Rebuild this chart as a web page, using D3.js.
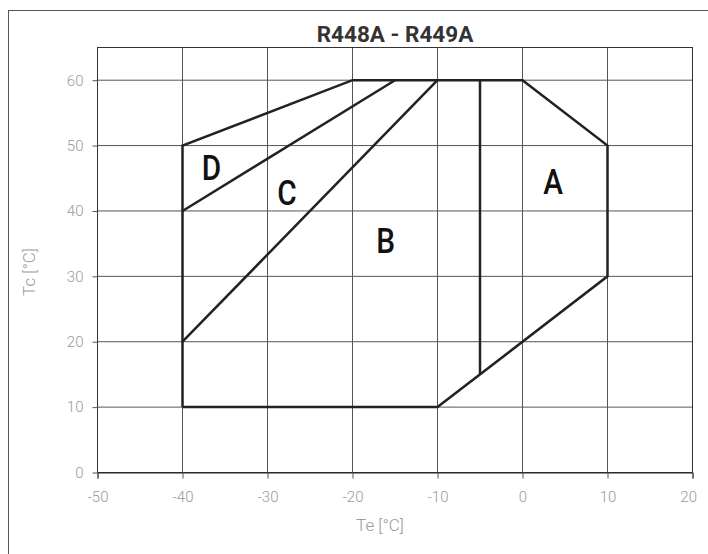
<!DOCTYPE html>
<html>
<head>
<meta charset="utf-8">
<script src="https://cdn.jsdelivr.net/npm/d3@7"></script>
<style>
  body { margin: 0; background: #fff; }
  svg { display: block; }
  .tick text { font-family: Roboto, sans-serif; font-weight: 300; font-size: 15px; fill: #9a9a9a; }
</style>
</head>
<body>
<div id="chart"></div>
<script>
// Operating envelope, Te (evaporating) vs Tc (condensing)
var xTicks = [-50, -40, -30, -20, -10, 0, 10, 20];
var yTicks = [0, 10, 20, 30, 40, 50, 60];

var envelope = [[-40, 10], [-10, 10], [10, 30], [10, 50], [0, 60], [-20, 60], [-40, 50], [-40, 10]];
var dividerAB = [[-5, 15], [-5, 60]];
var dividerBC = [[-40, 20], [-10, 60]];
var dividerCD = [[-40, 40], [-15, 60]];

var zoneNames = ["A", "B", "C", "D"];
var zoneTe = [3.6, -16.1, -27.7, -36.6];
var zoneTc = [42.6, 33.6, 40.9, 44.8];

var width = 708, height = 554;
var plotLeft = 97.5, plotRight = 692.5, plotTop = 47.5, plotBottom = 472.5;

var svg = d3.select("#chart").append("svg")
    .attr("width", width)
    .attr("height", height);

// outer frame (runs off the page on the right and bottom)
svg.append("rect")
    .attr("x", 8.5).attr("y", 10.5)
    .attr("width", 900).attr("height", 800)
    .attr("fill", "none")
    .attr("stroke", "#555")
    .attr("stroke-width", 1);

var x = d3.scaleLinear().domain([-50, 20]).range([plotLeft, plotRight]);
var y = d3.scaleLinear().domain([0, 65]).range([plotBottom, plotTop]);

// grid
svg.append("g").selectAll("line")
    .data(xTicks)
    .enter().append("line")
    .attr("x1", d => x(d)).attr("x2", d => x(d))
    .attr("y1", plotTop).attr("y2", plotBottom)
    .attr("stroke", "#555");

svg.append("g").selectAll("line")
    .data(yTicks)
    .enter().append("line")
    .attr("x1", plotLeft).attr("x2", plotRight)
    .attr("y1", d => y(d)).attr("y2", d => y(d))
    .attr("stroke", "#555");

// plot border
svg.append("rect")
    .attr("x", plotLeft).attr("y", plotTop)
    .attr("width", plotRight - plotLeft).attr("height", plotBottom - plotTop)
    .attr("fill", "none")
    .attr("stroke", "#333");

// axes
var xAxis = svg.append("g")
    .attr("transform", "translate(0," + plotBottom + ")")
    .call(d3.axisBottom(x).tickValues(xTicks).tickSize(6).tickPadding(13).tickFormat(d => String(d)));
xAxis.select(".domain").attr("stroke", "#222");
xAxis.selectAll(".tick line").attr("stroke", "#555");
xAxis.selectAll(".tick text").attr("dy", "0.71em")
    .filter(d => d === 20).attr("text-anchor", "end").attr("x", 4);

var yAxis = svg.append("g")
    .attr("transform", "translate(" + plotLeft + ",0)")
    .call(d3.axisLeft(y).tickValues(yTicks).tickSize(5).tickPadding(9).tickFormat(d => String(d)));
yAxis.select(".domain").remove();
yAxis.selectAll(".tick line").attr("stroke", "#555");

// axis titles
svg.append("text")
    .attr("x", 380).attr("y", 531)
    .attr("text-anchor", "middle")
    .style("font-family", "Roboto, sans-serif")
    .style("font-weight", 300)
    .style("font-size", "17px")
    .style("fill", "#9a9a9a")
    .text("Te [°C]");

svg.append("text")
    .attr("transform", "translate(35,272) rotate(-90)")
    .attr("text-anchor", "middle")
    .style("font-family", "Roboto, sans-serif")
    .style("font-weight", 300)
    .style("font-size", "17px")
    .style("fill", "#9a9a9a")
    .text("Tc [°C]");

// title
svg.append("text")
    .attr("x", 395).attr("y", 41.5)
    .attr("text-anchor", "middle")
    .style("font-family", "Roboto, sans-serif")
    .style("font-weight", 700)
    .style("font-size", "22.5px")
    .style("fill", "#333")
    .text("R448A - R449A");

// envelope lines
var line = d3.line().x(d => x(d[0])).y(d => y(d[1]));

svg.append("g").selectAll("path")
    .data([envelope, dividerAB, dividerBC, dividerCD])
    .enter().append("path")
    .attr("d", line)
    .attr("fill", "none")
    .attr("stroke", "#222")
    .attr("stroke-width", 2.5)
    .attr("stroke-linejoin", "miter");

// zone labels
svg.append("g").selectAll("text")
    .data(zoneNames)
    .enter().append("text")
    .attr("transform", (d, i) => "translate(" + x(zoneTe[i]) + "," + y(zoneTc[i]) + ") scale(0.85,1)")
    .attr("text-anchor", "middle")
    .style("font-family", "Roboto, sans-serif")
    .style("font-weight", 500)
    .style("font-size", "35px")
    .style("fill", "#111")
    .text(d => d);
</script>
</body>
</html>
